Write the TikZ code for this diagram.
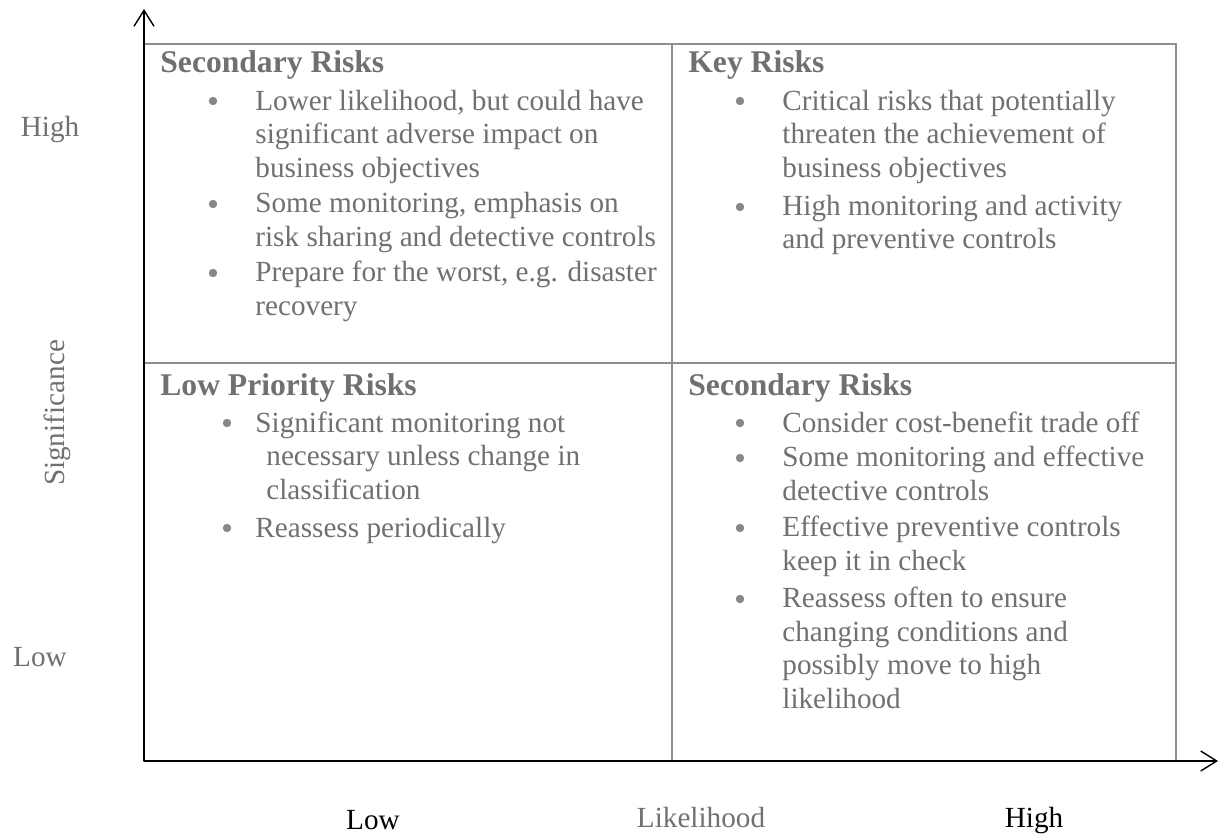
\documentclass[tikz,border=0pt]{standalone}
\usepackage{fontspec}
\setmainfont{Liberation Serif}
\usetikzlibrary{arrows.meta}

\definecolor{txtgray}{HTML}{707070}
\definecolor{linegray}{HTML}{8E8E8E}
\definecolor{dotgray}{HTML}{878787}

\tikzset{
  head/.style={anchor=base west,inner sep=0pt,text=txtgray,font=\fontsize{15.8}{16.7}\selectfont\bfseries},
  % items are placed by the baseline of their last line
  item/.style={anchor=base west,inner sep=0pt,align=left,text=txtgray,font=\fontsize{14.6}{16.7}\selectfont},
  dot/.style={circle,fill=dotgray,inner sep=0pt,minimum size=4.2pt},
  axlabel/.style={anchor=base,inner sep=0pt,font=\fontsize{14.6}{16.7}\selectfont},
  axis/.style={line width=1.3pt,-{Straight Barb[length=8pt,width=10pt,line width=0.7pt]}},
}

\begin{document}
\begin{tikzpicture}[x=0.5pt,y=-0.5pt]
          \useasboundingbox (0,0) rectangle (1219,834);
          % grid of the four quadrants
          \coordinate (O) at (144,761);
          \draw[linegray,line width=0.6pt] (144,44) rectangle (1176,761) (672,44) -- (672,761) (144,363) -- (1176,363);
          \draw[axis] (O) -- (144,9);
          \draw[axis] (O) -- (1218,761);
          % axis labels
          \draw (50,137) node[axlabel,text=txtgray] (yhigh) {High} (40,666) node[axlabel,text=txtgray] (ylow) {Low};
          \draw (57,413) node[axlabel,anchor=center,rotate=90,text=txtgray] (ytitle) {Significance};
          \draw (373,829) node[axlabel] (xlow) {Low} (701,827) node[axlabel,text=txtgray] (xtitle) {Likelihood} (1034,827) node[axlabel] (xhigh) {High};
          % top left
          \node[head] (tlhead) at (160,73) {Secondary Risks};
          \draw (213,101) node[dot] (tldot1) {} (213,204) node[dot] (tldot2) {} (213,273) node[dot] (tldot3) {};
          \node[item] (tlitem1) at (255,177) {Lower likelihood, but could have\\significant adverse impact on\\business objectives};
          \node[item] (tlitem2) at (255,246) {Some monitoring, emphasis on\\risk sharing and detective controls};
          \node[item] (tlitem3) at (255,315) {Prepare for the worst, e.g. disaster\\recovery};
          % top right
          \node[head] (trhead) at (688,73) {Key Risks};
          \draw (740,101) node[dot] (trdot1) {} (740,207) node[dot] (trdot2) {};
          \node[item] (tritem1) at (782,177) {Critical risks that potentially\\threaten the achievement of\\business objectives};
          \node[item] (tritem2) at (782,249) {High monitoring and activity\\and preventive controls};
          % bottom left
          \node[head] (blhead) at (160,395) {Low Priority Risks};
          \draw (227,423) node[dot] (bldot1) {} (227,528) node[dot] (bldot2) {};
          \node[item] (blitem1) at (255,499) {Significant monitoring not\\\hspace*{5.5pt}necessary unless change in\\\hspace*{5.5pt}classification};
          \node[item] (blitem2) at (255,537) {Reassess periodically};
          % bottom right
          \node[head] (brhead) at (688,395) {Secondary Risks};
          \draw (740,423) node[dot] (brdot1) {} (740,458) node[dot] (brdot2) {} (740,528) node[dot] (brdot3) {} (740,599) node[dot] (brdot4) {};
          \node[item] (britem1) at (782,432) {Consider cost-benefit trade off};
          \node[item] (britem2) at (782,500) {Some monitoring and effective\\detective controls};
          \node[item] (britem3) at (782,570) {Effective preventive controls\\keep it in check};
          \node[item] (britem4) at (782,708) {Reassess often to ensure\\changing conditions and\\possibly move to high\\likelihood};
        \end{tikzpicture}
\end{document}
